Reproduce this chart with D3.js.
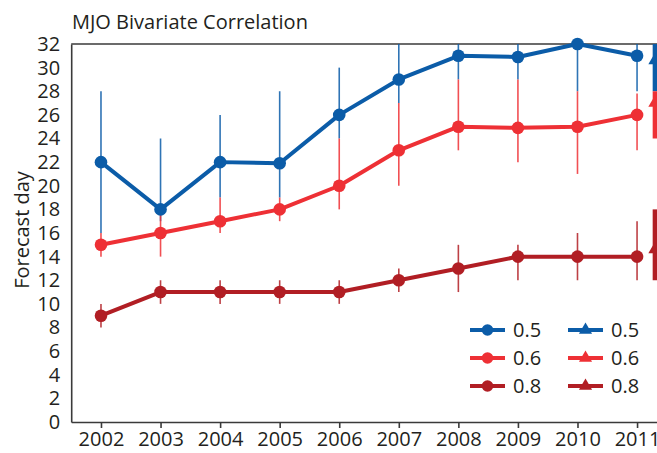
<!DOCTYPE html>
<html lang="en">
<head>
<meta charset="utf-8">
<script src="https://cdn.jsdelivr.net/npm/d3@7"></script>
<style>
    body { margin: 0; background: #fff; }
    text { font-family: "Open Sans", sans-serif; fill: #231f20; }
</style>
</head>
<body>
<script type="text/javascript">

    /* data */
    var years = [2002, 2003, 2004, 2005, 2006, 2007, 2008, 2009, 2010, 2011];

    var c05 = [22, 18, 22, 21.9, 26, 29, 31, 30.9, 32, 31];
    var c05lo = [16, 17, 19, 19, 24, 27, 29, 29, 28, 28];
    var c05hi = [28, 24, 26, 28, 30, 32, 32, 32, 32, 32];

    var c06 = [15, 16, 17, 18, 20, 23, 25, 24.9, 25, 26];
    var c06lo = [14, 14, 16, 17, 18, 20, 23, 22, 21, 23];
    var c06hi = [16, 18, 19, 19, 24, 27, 29, 29, 28, 27.8];

    var c08 = [9, 11, 11, 11, 11, 12, 13, 14, 14, 14];
    var c08lo = [8, 10, 10, 10, 10, 11, 11, 12, 12, 12];
    var c08hi = [10, 12, 12, 12, 12, 13, 15, 15, 16, 17];

    /* triangle series: single point just past 2011 */
    var triYear = 2011.3;
    var tri = [30.6, 27, 14.6];
    var triLo = [28, 24, 12];
    var triHi = [32, 28, 18];

    var labels = ["0.5", "0.6", "0.8"];
    var colors = ["#0b5ca8", "#ee3035", "#b11e24"];
    var yTicks = d3.range(0, 33, 2);

    var svgWidth = 657;
    var svgHeight = 453;

    var svg = d3.select("body").append("svg")
            .attr("width", svgWidth)
            .attr("height", svgHeight);

    var x = d3.scaleLinear()
            .domain([2001.5, 2012.5])
            .range([71.2, 726.4]);

    var y = d3.scaleLinear()
            .domain([0, 32])
            .range([422, 44]);

    /* title */
    svg.append("text")
            .attr("x", 72)
            .attr("y", 29)
            .style("font-size", "20px")
            .text("MJO Bivariate Correlation");

    /* axes */
    var xAxis = svg.append("g")
            .attr("transform", "translate(0," + y(0) + ")")
            .call(d3.axisBottom(x).tickValues(years).tickFormat(d3.format("d")).tickSize(6).tickSizeOuter(0).tickPadding(4));

    var yAxis = svg.append("g")
            .attr("transform", "translate(" + x(2001.5) + ",0)")
            .call(d3.axisLeft(y).tickValues(yTicks).tickSize(0).tickSizeOuter(0).tickPadding(11));

    svg.selectAll(".tick text")
            .style("font-size", "20px")
            .style("font-family", "'Open Sans', sans-serif")
            .attr("fill", "#231f20");
    svg.selectAll(".domain, .tick line")
            .attr("stroke", "#3a3a3a")
            .attr("stroke-width", 1.6);

    /* top frame line */
    svg.append("line")
            .attr("x1", x(2001.5))
            .attr("x2", x(2012.5))
            .attr("y1", y(32))
            .attr("y2", y(32))
            .attr("stroke", "#3a3a3a")
            .attr("stroke-width", 1.6);

    /* y label */
    svg.append("text")
            .attr("transform", "translate(29," + 230 + ") rotate(-90)")
            .attr("text-anchor", "middle")
            .style("font-size", "20px")
            .text("Forecast day");

    var series = [
        {vals: c05, lo: c05lo, hi: c05hi},
        {vals: c06, lo: c06lo, hi: c06hi},
        {vals: c08, lo: c08lo, hi: c08hi}
    ];

    /* error bars first */
    series.forEach(function(s, k) {
        svg.append("g").selectAll("line")
                .data(years)
                .enter()
                .append("line")
                .attr("x1", function(d) { return x(d); })
                .attr("x2", function(d) { return x(d); })
                .attr("y1", function(d, i) { return y(s.lo[i]); })
                .attr("y2", function(d, i) { return y(s.hi[i]); })
                .attr("stroke", colors[k])
                .attr("stroke-opacity", 0.85)
                .attr("stroke-width", 1.6);
    });

    var line = d3.line()
            .x(function(d) { return x(d[0]); })
            .y(function(d) { return y(d[1]); });

    series.forEach(function(s, k) {
        var pts = years.map(function(d, i) { return [d, s.vals[i]]; });

        svg.append("path")
                .datum(pts)
                .attr("d", line)
                .attr("fill", "none")
                .attr("stroke", colors[k])
                .attr("stroke-width", 4)
                .attr("stroke-linejoin", "round");

        svg.append("g").selectAll("circle")
                .data(pts)
                .enter()
                .append("circle")
                .attr("cx", function(d) { return x(d[0]); })
                .attr("cy", function(d) { return y(d[1]); })
                .attr("r", 6.3)
                .attr("fill", colors[k]);
    });

    /* triangle series */
    var triangle = d3.symbol().type(d3.symbolTriangle).size(75);

    tri.forEach(function(v, k) {
        svg.append("line")
                .attr("x1", x(triYear))
                .attr("x2", x(triYear))
                .attr("y1", y(triLo[k]))
                .attr("y2", y(triHi[k]))
                .attr("stroke", colors[k])
                .attr("stroke-width", 4.5);

        svg.append("path")
                .attr("d", triangle)
                .attr("transform", "translate(" + x(triYear) + "," + y(v) + ")")
                .attr("fill", colors[k]);
    });

    /* legend */
    var legend = svg.append("g");
    var rowY = [330, 358, 386];

    labels.forEach(function(lab, k) {
        [0, 1].forEach(function(col) {
            var lx = col === 0 ? 470 : 568;
            legend.append("line")
                    .attr("x1", lx)
                    .attr("x2", lx + 35)
                    .attr("y1", rowY[k])
                    .attr("y2", rowY[k])
                    .attr("stroke", colors[k])
                    .attr("stroke-width", 4);
            if (col === 0) {
                legend.append("circle")
                        .attr("cx", lx + 17.5)
                        .attr("cy", rowY[k])
                        .attr("r", 5.8)
                        .attr("fill", colors[k]);
            } else {
                legend.append("path")
                        .attr("d", triangle)
                        .attr("transform", "translate(" + (lx + 17.5) + "," + rowY[k] + ")")
                        .attr("fill", colors[k]);
            }
            legend.append("text")
                    .attr("x", lx + 43)
                    .attr("y", rowY[k] + 7)
                    .style("font-size", "20px")
                    .text(lab);
        });
    });

</script>
</body>
</html>
